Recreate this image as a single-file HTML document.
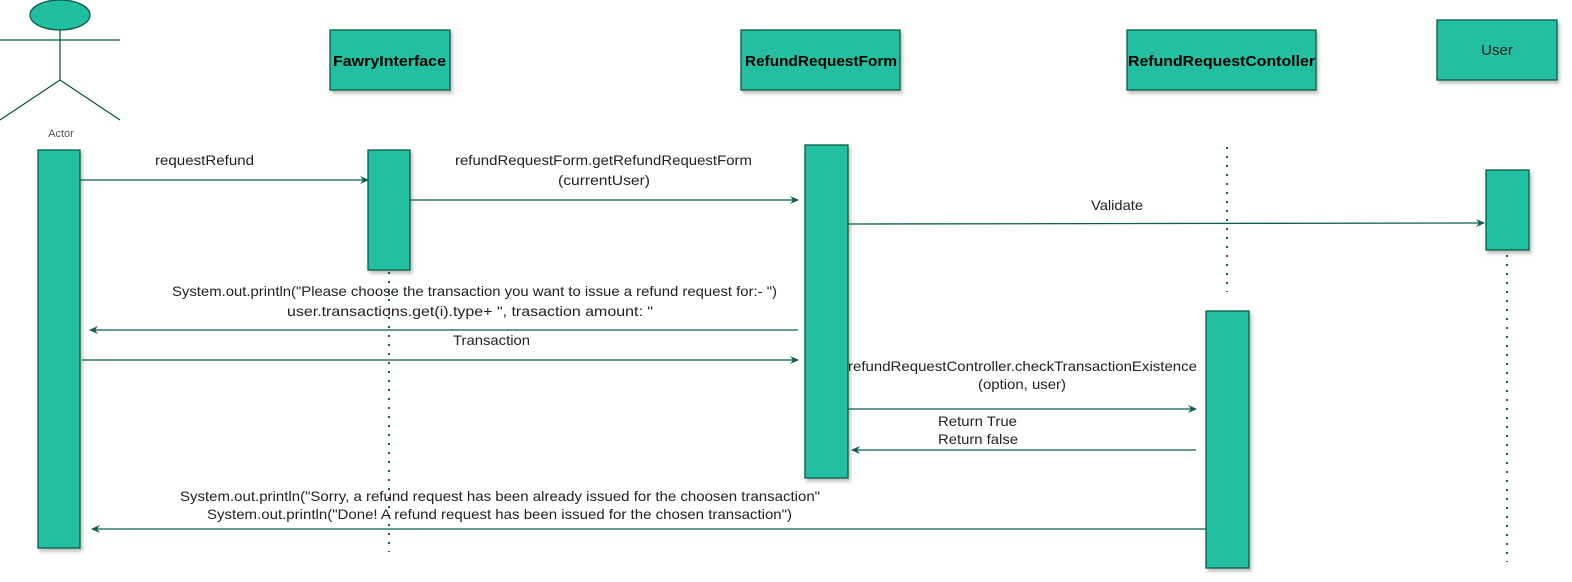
<!DOCTYPE html>
<html><head><meta charset="utf-8"><style>
html,body{margin:0;padding:0;background:#fff;}
svg{display:block;font-family:"Liberation Sans",Arial,sans-serif;}
</style></head><body>
<svg width="1572" height="582" viewBox="0 0 1572 582" xmlns="http://www.w3.org/2000/svg">
<defs>
<marker id="a" markerWidth="10" markerHeight="10" refX="8" refY="5" orient="auto" markerUnits="userSpaceOnUse">
<path d="M0,1 L9,5 L0,9 L3,5 Z" fill="#0b5e50"/></marker>
<filter id="s" x="-10%" y="-10%" width="130%" height="130%"><feDropShadow dx="2" dy="3" stdDeviation="1.5" flood-color="#000" flood-opacity="0.25"/></filter>
</defs>
<g stroke="#0d5a4a" stroke-width="1.3" fill="#20bfa0">
<ellipse cx="60" cy="15" rx="30" ry="15"/>
<line x1="60" y1="30" x2="60" y2="80"/>
<line x1="0" y1="40" x2="120" y2="40"/>
<line x1="60" y1="80" x2="0" y2="120"/>
<line x1="60" y1="80" x2="120" y2="120"/>
<rect x="330" y="30" width="120" height="60" filter="url(#s)"/>
<rect x="741" y="30" width="159" height="60" filter="url(#s)"/>
<rect x="1127" y="30" width="189" height="60" filter="url(#s)"/>
<rect x="1437" y="20" width="120" height="60" filter="url(#s)"/>
</g>
<g stroke="#0d6a58" stroke-width="2" stroke-dasharray="2,7" fill="none">
<line x1="389" y1="272" x2="389" y2="552"/>
<line x1="1227" y1="147" x2="1227" y2="292"/>
<line x1="1507" y1="255" x2="1507" y2="562"/>
</g>
<g stroke="#0d5a4a" stroke-width="1.3" fill="#20bfa0" filter="url(#s)">
<rect x="38" y="150" width="42" height="398"/>
<rect x="368" y="150" width="42" height="120"/>
<rect x="805" y="145" width="43" height="333"/>
<rect x="1206" y="311" width="43" height="257"/>
<rect x="1486" y="170" width="43" height="80"/>
</g>
<g font-size="15" fill="#000" font-weight="bold">
<text x="333" y="66" textLength="113" lengthAdjust="spacingAndGlyphs">FawryInterface</text>
<text x="745" y="66" textLength="152" lengthAdjust="spacingAndGlyphs">RefundRequestForm</text>
<text x="1128" y="66" textLength="187" lengthAdjust="spacingAndGlyphs">RefundRequestContoller</text>
</g>
<text x="1497" y="55" font-size="15" text-anchor="middle" fill="#222">User</text>
<text x="61" y="137" font-size="11" text-anchor="middle" fill="#555">Actor</text>
<g stroke="#0b5e50" stroke-width="1.3" marker-end="url(#a)">
<line x1="80" y1="180" x2="368" y2="180"/>
<line x1="410" y1="200" x2="798" y2="200"/>
<line x1="848" y1="224" x2="1484" y2="223"/>
<line x1="798" y1="330" x2="90" y2="330"/>
<line x1="82" y1="360" x2="798" y2="360"/>
<line x1="848" y1="409" x2="1196" y2="409"/>
<line x1="1196" y1="450" x2="852" y2="450"/>
<line x1="1206" y1="529" x2="92" y2="529"/>
</g>
<g font-size="14" fill="#222">
<text x="155" y="165" textLength="99" lengthAdjust="spacingAndGlyphs">requestRefund</text>
<text x="455" y="165" textLength="297" lengthAdjust="spacingAndGlyphs">refundRequestForm.getRefundRequestForm</text>
<text x="558" y="185" textLength="92" lengthAdjust="spacingAndGlyphs">(currentUser)</text>
<text x="1091" y="210" textLength="52" lengthAdjust="spacingAndGlyphs">Validate</text>
<text x="172" y="296" textLength="605" lengthAdjust="spacingAndGlyphs">System.out.println("Please choose the transaction you want to issue a refund request for:- ")</text>
<text x="287" y="316" textLength="366" lengthAdjust="spacingAndGlyphs">user.transactions.get(i).type+ ", trasaction amount: "</text>
<text x="453" y="345" textLength="77" lengthAdjust="spacingAndGlyphs">Transaction</text>
<text x="848" y="371" textLength="349" lengthAdjust="spacingAndGlyphs">refundRequestController.checkTransactionExistence</text>
<text x="978" y="389" textLength="88" lengthAdjust="spacingAndGlyphs">(option, user)</text>
<text x="938" y="426" textLength="79" lengthAdjust="spacingAndGlyphs">Return True</text>
<text x="938" y="444" textLength="80" lengthAdjust="spacingAndGlyphs">Return false</text>
<text x="180" y="501" textLength="640" lengthAdjust="spacingAndGlyphs">System.out.println("Sorry, a refund request has been already issued for the choosen transaction"</text>
<text x="207" y="519" textLength="585" lengthAdjust="spacingAndGlyphs">System.out.println("Done! A refund request has been issued for the chosen transaction")</text>
</g>
</svg>
</body></html>
